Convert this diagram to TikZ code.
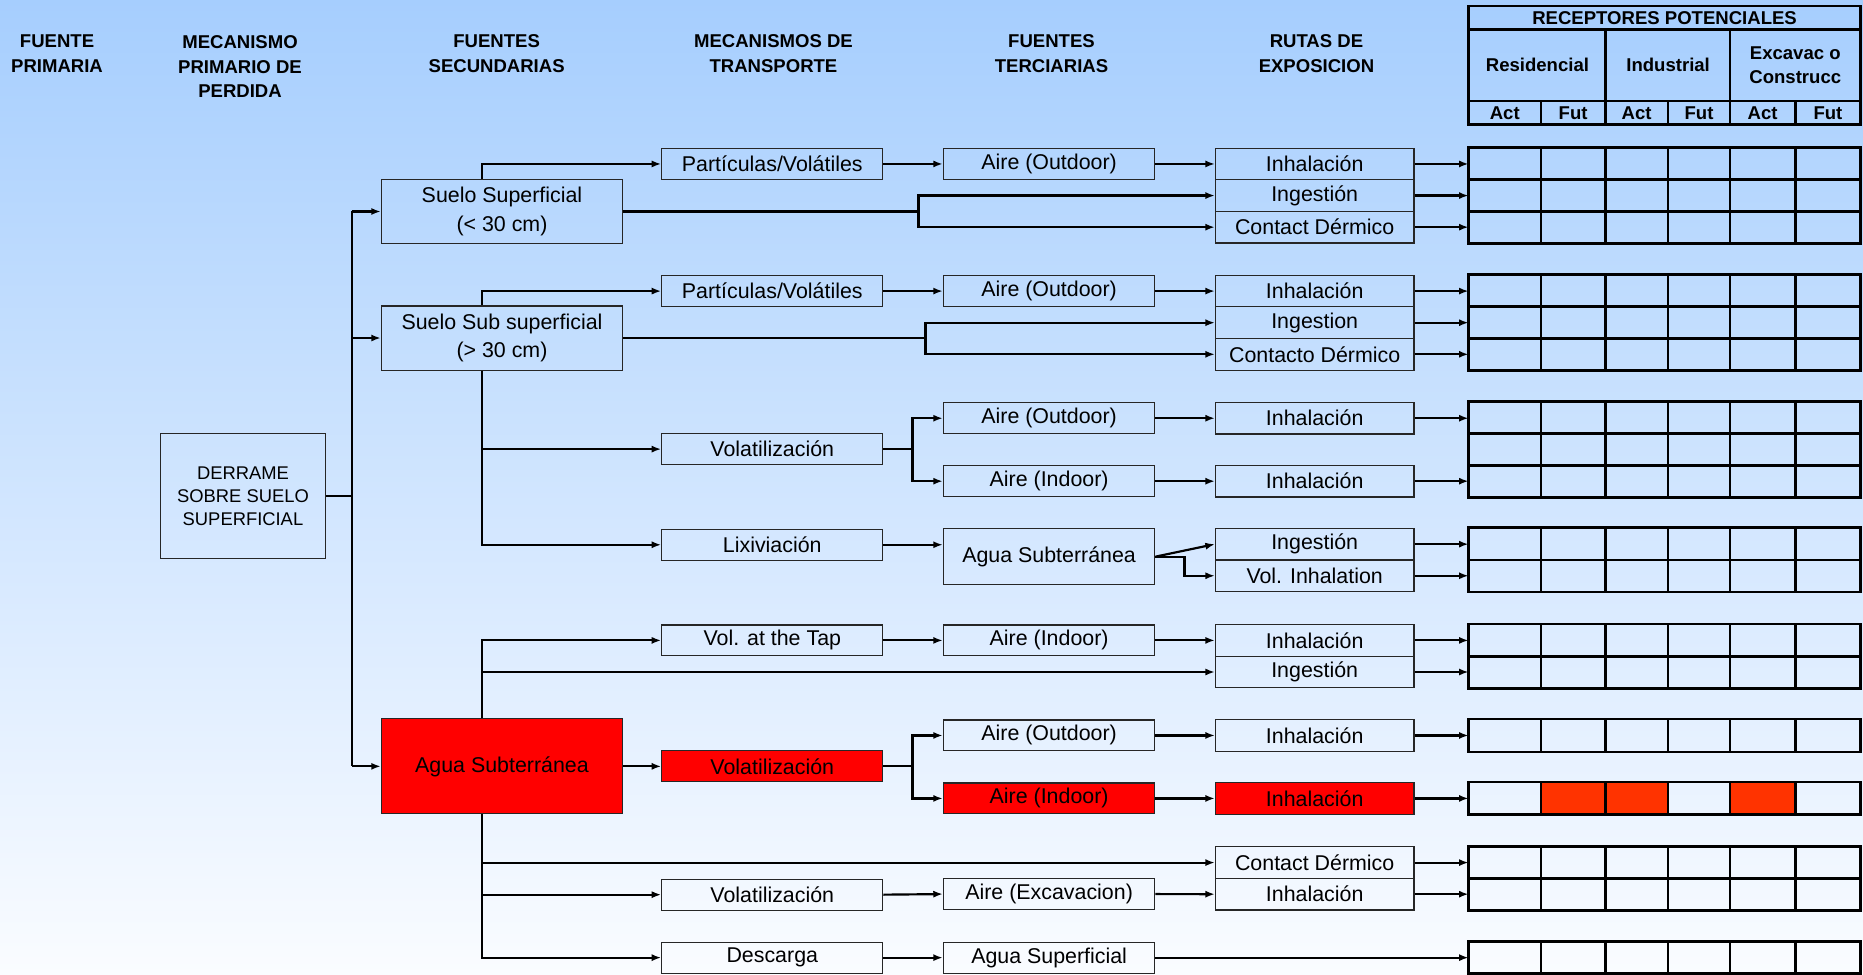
\documentclass[tikz,border=0pt]{standalone}
\usepackage{fontspec}
\setmainfont{Liberation Sans}
\usetikzlibrary{arrows.meta,calc}
\definecolor{bgtop}{RGB}{166,206,254}
\definecolor{bgbot}{RGB}{250,252,255}
\definecolor{redbox}{RGB}{255,0,0}
\definecolor{redcell}{RGB}{255,51,0}

\begin{document}
\begin{tikzpicture}[x=0.025cm,y=-0.025cm,
    box/.style={draw=black!85,line width=0.7pt,inner sep=0pt,minimum height=0.665cm,
      font=\fontsize{12.8}{17}\selectfont,align=center},
    trans/.style={box,minimum width=4.65cm,minimum height=0.65cm},
    terc/.style={box,minimum width=4.45cm,minimum height=0.65cm},
    ruta/.style={box,minimum width=4.175cm},
    sec/.style={box,minimum width=5.075cm,minimum height=1.35cm},
    hot/.style={fill=redbox},
    colhead/.style={font=\bfseries\fontsize{11.1}{14.9}\selectfont,align=center},
    wire/.style={line width=1.3pt},
    wirearr/.style={wire,-{Latex[length=2mm,width=1.5mm]}},
    cellline/.style={line width=1.6pt}]
    \useasboundingbox (0,0) rectangle (1568,820);
    \shade[top color=bgtop,bottom color=bgbot] (0,0) rectangle (1568,820);

    \node[colhead] (hprim) at (48,45.5) {FUENTE\\PRIMARIA};
    \node[colhead] (hmec) at (202,56) {MECANISMO\\PRIMARIO DE\\PERDIDA};
    \node[colhead] (hsec) at (418,45.5) {FUENTES\\SECUNDARIAS};
    \node[colhead] (htra) at (651,45.5) {MECANISMOS DE\\TRANSPORTE};
    \node[colhead] (hter) at (885,45.5) {FUENTES\\TERCIARIAS};
    \node[colhead] (hrut) at (1108,45.5) {RUTAS DE\\EXPOSICION};

    \draw[cellline] (1236,5) rectangle (1566,105);
    \draw[cellline] (1236,25) -- (1566,25) (1236,85) -- (1566,85);
    \draw[cellline] (1351,25) -- (1351,105) (1456,25) -- (1456,105);
    \draw[cellline] (1297,85) -- (1297,105) (1404,85) -- (1404,105) (1511,85) -- (1511,105);
    \node[colhead] (hrec) at (1401,15) {RECEPTORES POTENCIALES};
    \node[colhead] (hres) at (1294,55) {Residencial};
    \node[colhead] (hind) at (1404,55) {Industrial};
    \node[colhead,font=\bfseries\fontsize{11.1}{14.2}\selectfont] (hexc) at (1511,55) {Excavac o\\Construcc};
    \foreach \x/\t [count=\k] in {1266.5/Act,1324/Fut,1377.5/Act,1430/Fut,1483.5/Act,1538.5/Fut}
      \node[colhead] (hcol\k) at (\x,95) {\t};

    \node[box,minimum width=3.475cm,minimum height=2.625cm,font=\fontsize{11}{13.9}\selectfont]
      (der) at (204.5,417.5) {DERRAME\\SOBRE SUELO\\SUPERFICIAL};

    \node[sec] (ss) at (422.5,178) {Suelo Superficial\\(< 30 cm)};
    \node[sec] (ssb) at (422.5,284.5) {Suelo Sub superficial\\(> 30 cm)};
    \node[sec,hot,minimum height=2cm] (asub) at (422.5,645) {Agua Subterránea};

    \node[trans] (pv1) at (650,138) {Partículas/Volátiles};
    \node[trans] (pv2) at (650,245) {Partículas/Volátiles};
    \node[trans] (vol1) at (650,378) {Volatilización};
    \node[trans] (lix) at (650,458.5) {Lixiviación};
    \node[trans] (tap) at (650,539) {Vol. at the Tap};
    \node[trans,hot] (vol2) at (650,645) {Volatilización};
    \node[trans] (vol3) at (650,753) {Volatilización};
    \node[trans] (desc) at (650,806) {Descarga};

    \node[terc] (ao1) at (883,138) {Aire (Outdoor)};
    \node[terc] (ao2) at (883,245) {Aire (Outdoor)};
    \node[terc] (ao3) at (883,352) {Aire (Outdoor)};
    \node[terc] (ai1) at (883,405) {Aire (Indoor)};
    \node[terc,minimum height=1.175cm] (agsub) at (883,468.5) {Agua Subterránea};
    \node[terc] (ai2) at (883,539) {Aire (Indoor)};
    \node[terc] (ao4) at (883,619) {Aire (Outdoor)};
    \node[terc,hot] (ai3) at (883,672) {Aire (Indoor)};
    \node[terc] (aexc) at (883,752.5) {Aire (Excavacion)};
    \node[terc] (asup) at (883,806) {Agua Superficial};

    \node[ruta] (inh1) at (1106.5,138) {Inhalación};
    \node[ruta] (ing1) at (1106.5,164.6) {Ingestión};
    \node[ruta] (cd1) at (1106.5,191.2) {Contact Dérmico};
    \node[ruta] (inh2) at (1106.5,245) {Inhalación};
    \node[ruta] (ing2) at (1106.5,271.6) {Ingestion};
    \node[ruta] (cd2) at (1106.5,298.2) {Contacto Dérmico};
    \node[ruta] (inh3) at (1106.5,352) {Inhalación};
    \node[ruta] (inh4) at (1106.5,405) {Inhalación};
    \node[ruta] (ing4) at (1106.5,458) {Ingestión};
    \node[ruta] (vinh) at (1106.5,484.6) {Vol. Inhalation};
    \node[ruta] (inh5) at (1106.5,539) {Inhalación};
    \node[ruta] (ing5) at (1106.5,565.6) {Ingestión};
    \node[ruta] (inh6) at (1106.5,619) {Inhalación};
    \node[ruta,hot] (inh7) at (1106.5,672) {Inhalación};
    \node[ruta] (cd8) at (1106.5,726) {Contact Dérmico};
    \node[ruta] (inh8) at (1106.5,752.6) {Inhalación};

    \coordinate (trunk) at (296,0);
    \coordinate (sx) at (406,0);
    \coordinate (ja) at (773,0);
    \coordinate (jb) at (779,0);
    \coordinate (jc) at (768,0);
    \coordinate (jd) at (997,0);
    \coordinate (gl) at (1236,0);
    \coordinate (gr) at (1566,0);
    \foreach \x [count=\k] in {1297,1351,1404,1456,1511}
      \coordinate (c\k) at (\x,0);

    \fill[redcell] (inh7.north -| c1) rectangle (inh7.south -| c3);
    \fill[redcell] (inh7.north -| c4) rectangle (inh7.south -| c5);
    \foreach \t/\b/\n in {inh1/cd1/3,inh2/cd2/3,inh3/inh4/3,ing4/vinh/2,inh5/ing5/2,
        inh6/inh6/1,inh7/inh7/1,cd8/inh8/2,asup/asup/1}{
      \draw[cellline] (\t.north -| gl) rectangle (\b.south -| gr);
      \foreach \k in {1,...,5}
        \draw[cellline] (\t.north -| c\k) -- (\b.south -| c\k);
      \foreach \i in {1,...,\n}
        \draw[cellline] ($(\t.north -| gl)!\i/\n!(\b.south -| gl)$) -- ($(\t.north -| gr)!\i/\n!(\b.south -| gr)$);
    }

    \draw[wire] (der.east) -- (der.east -| trunk);
    \draw[wire] (ss.west -| trunk) -- (asub.west -| trunk);
    \foreach \n in {ss,ssb,asub}
      \draw[wirearr] (\n.west -| trunk) -- (\n.west);

    \draw[wirearr] (ss.north -| sx) |- (pv1.west);
    \draw[wire] (ss.east) -- (ss.east -| ja);
    \draw[wirearr] (ss.east -| ja) |- (ing1.west);
    \draw[wirearr] (ss.east -| ja) |- (cd1.west);

    \draw[wirearr] (ssb.north -| sx) |- (pv2.west);
    \draw[wire] (ssb.east) -- (ssb.east -| jb);
    \draw[wirearr] (ssb.east -| jb) |- (ing2.west);
    \draw[wirearr] (ssb.east -| jb) |- (cd2.west);
    \draw[wirearr] (ssb.south -| sx) |- (vol1.west);
    \draw[wirearr] (ssb.south -| sx) |- (lix.west);

    \draw[wire] (vol1.east) -- (vol1.east -| jc);
    \draw[wirearr] (vol1.east -| jc) |- (ao3.west);
    \draw[wirearr] (vol1.east -| jc) |- (ai1.west);
    \draw[wirearr] (lix.east) -- (lix.east -| agsub.west);
    \draw[wirearr] (agsub.east) -- (ing4.west);
    \draw[wirearr] (agsub.east) -- (agsub.east -| jd) |- (vinh.west);

    \draw[wirearr] (asub.north -| sx) |- (tap.west);
    \draw[wirearr] (asub.north -| sx) |- (ing5.west);
    \draw[wirearr] (asub.east) -- (vol2.west);
    \draw[wire] (vol2.east) -- (vol2.east -| jc);
    \draw[wirearr] (vol2.east -| jc) |- (ao4.west);
    \draw[wirearr] (vol2.east -| jc) |- (ai3.west);
    \draw[wirearr] (asub.south -| sx) |- (cd8.west);
    \draw[wirearr] (asub.south -| sx) |- (vol3.west);
    \draw[wirearr] (asub.south -| sx) |- (desc.west);

    \foreach \a/\b in {pv1/ao1,ao1/inh1,pv2/ao2,ao2/inh2,ao3/inh3,ai1/inh4,tap/ai2,ai2/inh5,
        ao4/inh6,ai3/inh7,vol3/aexc,aexc/inh8,desc/asup}
      \draw[wirearr] (\a.east) -- (\b.west);
    \foreach \r in {inh1,ing1,cd1,inh2,ing2,cd2,inh3,inh4,ing4,vinh,inh5,ing5,inh6,inh7,cd8,inh8,asup}
      \draw[wirearr] (\r.east) -- (\r.east -| gl);
\end{tikzpicture}
\end{document}
